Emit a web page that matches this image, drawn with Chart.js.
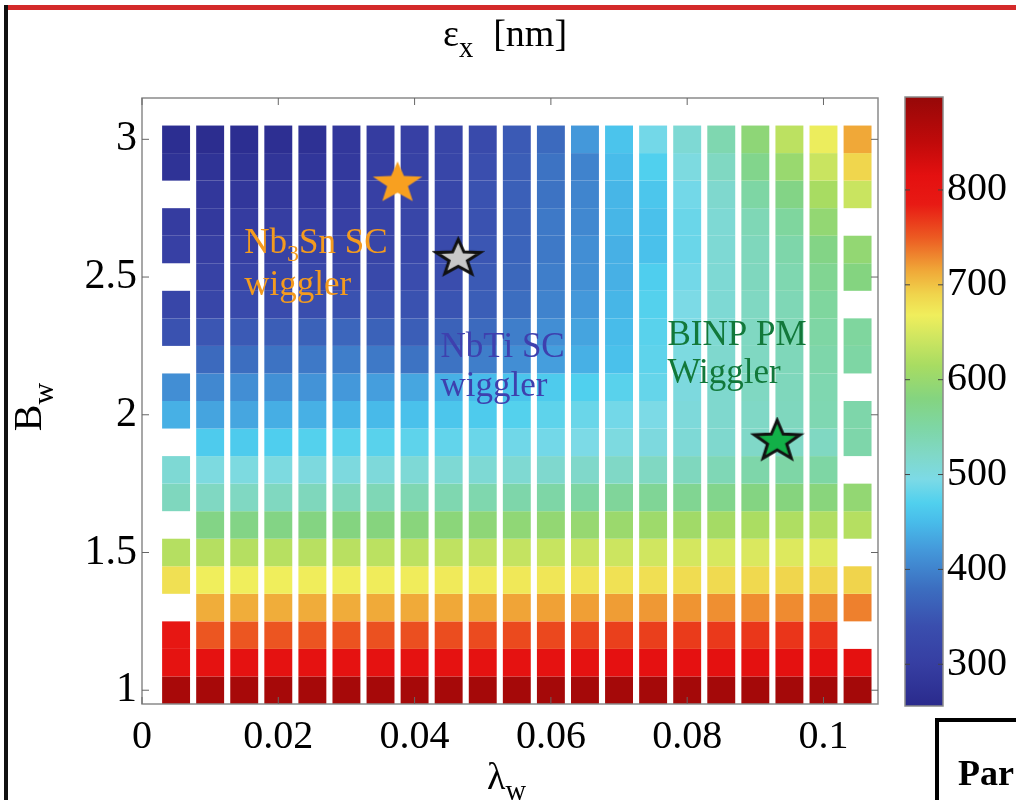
<!DOCTYPE html>
<html>
<head>
<meta charset="utf-8">
<script src="https://cdn.jsdelivr.net/npm/chart.js@4.4.0/dist/chart.umd.min.js"></script>
<style>
    body { margin: 0; background: #fff; width: 1016px; height: 800px; overflow: hidden; position: relative; font-family: 'Liberation Serif', serif; }
    #main { position: absolute; left: 0; top: 0; }
    #cbar { position: absolute; left: 880px; top: 0; }
    .lbl { position: absolute; color: #000; white-space: nowrap; line-height: 1; }
    .lbl sub { font-size: 0.75em; vertical-align: -0.4em; }
    .redline { position: absolute; left: 8px; top: 5px; width: 1008px; height: 5px; background: #d42a2a; }
    .blackline { position: absolute; left: 4px; top: 5px; width: 4px; height: 795px; background: #111; }
    .parbox { position: absolute; left: 935px; top: 718px; width: 110px; height: 110px; border: 4px solid #000; box-sizing: border-box; }
    .parbox span { position: absolute; left: 19px; top: 30px; font-size: 36px; font-weight: bold; }
</style>
</head>
<body>
<div class="redline"></div>
<div class="blackline"></div>
<canvas id="main" width="1016" height="800"></canvas>
<canvas id="cbar" width="136" height="800"></canvas>
<div class="lbl" style="left:443px; top:14px; font-size:38px;">ε<sub>x</sub><span style="padding-left:20px">[nm]</span></div>
<div class="lbl" style="left:487px; top:757px; font-size:38px;">λ<sub>w</sub></div>
<div class="lbl" style="left:-12px; top:382px; width:90px; text-align:center; font-size:40px; transform: rotate(-90deg);">B<sub>w</sub></div>
<div class="parbox"><span>Par</span></div>
<script>
// wiggler period (m) and field (T) grid
const lambdaW = [0.005, 0.010, 0.015, 0.020, 0.025, 0.030, 0.035, 0.040, 0.045, 0.050, 0.055,
                 0.060, 0.065, 0.070, 0.075, 0.080, 0.085, 0.090, 0.095, 0.100, 0.105];
const bW = [3.0, 2.9, 2.8, 2.7, 2.6, 2.5, 2.4, 2.3, 2.2, 2.1, 2.0,
            1.9, 1.8, 1.7, 1.6, 1.5, 1.4, 1.3, 1.2, 1.1, 1.0];

// horizontal emittance [nm], one row per B_w (top to bottom), null = no cell
const emittance = [
    [265, 262, 265, 268, 272, 285, 295, 305, 318, 330, 355, 375, 420, 458, 490, 510, 540, 590, 630, 665, 715],
    [275, 275, 275, 280, 283, 290, 300, 310, 320, 340, 360, 385, 400, 450, 470, 500, 525, 570, 600, 640, 688],
    [null, 285, 285, 290, 292, 298, 305, 315, 322, 345, 362, 385, 402, 445, 460, 490, 515, 550, 575, 615, 640],
    [295, 290, 295, 300, 302, 305, 312, 320, 325, 345, 365, 390, 405, 445, 455, 485, 510, 535, 555, 595, null],
    [305, 300, 305, 310, 312, 315, 318, 325, 330, 350, 368, 390, 410, 440, 455, 485, 510, 530, 545, 575, 595],
    [null, 310, 315, 320, 322, 325, 328, 335, 338, 355, 372, 395, 412, 440, 468, 490, 510, 528, 540, 565, 580],
    [320, 320, 330, 335, 340, 345, 345, 345, 348, 360, 380, 400, 420, 445, 472, 495, 510, 525, 535, 555, null],
    [345, 350, 355, 360, 365, 370, 365, 360, 365, 375, 395, 410, 430, 450, 475, 497, 512, 525, 535, 550, 555],
    [null, 375, 380, 385, 390, 395, 390, 385, 385, 395, 410, 425, 440, 455, 478, 500, 515, 525, 532, 545, 550],
    [410, 405, 410, 412, 415, 420, 425, 432, 440, 450, 458, 465, 470, 475, 482, 502, 515, 525, 530, 540, null],
    [440, 430, 432, 438, 440, 443, 448, 455, 460, 465, 472, 478, 485, 490, 495, 505, 515, 522, 528, 538, 545],
    [null, 465, 465, 468, 472, 475, 475, 478, 480, 485, 488, 490, 495, 500, 502, 508, 515, 520, 522, 525, 545],
    [510, 500, 500, 500, 502, 502, 505, 508, 510, 510, 512, 515, 518, 522, 525, 528, 535, 545, 548, 550, null],
    [528, 525, 525, 527, 530, 532, 535, 538, 540, 542, 545, 548, 552, 558, 562, 565, 570, 578, 582, 585, 595],
    [null, 575, 575, 576, 578, 580, 582, 585, 587, 590, 592, 595, 598, 602, 605, 608, 612, 617, 620, 622, 625],
    [625, 625, 625, 626, 627, 628, 629, 630, 632, 634, 636, 638, 640, 642, 645, 648, 650, 652, 654, 656, null],
    [680, 668, 668, 668, 669, 669, 670, 670, 671, 672, 673, 675, 677, 679, 681, 683, 685, 686, 688, 689, 690],
    [null, 712, 712, 712, 713, 713, 714, 714, 715, 716, 717, 718, 719, 720, 722, 724, 726, 727, 728, 729, 733],
    [795, 752, 752, 753, 753, 754, 755, 756, 757, 758, 759, 760, 762, 764, 765, 767, 768, 769, 770, 771, null],
    [805, 808, 808, 808, 808, 809, 809, 809, 809, 810, 810, 810, 810, 811, 811, 811, 812, 812, 812, 812, 812],
    [878, 879, 879, 880, 880, 880, 880, 880, 880, 881, 881, 881, 881, 881, 881, 882, 882, 882, 882, 882, 882]
];

const xTicks = [0, 0.02, 0.04, 0.06, 0.08, 0.1];
const yTicks = [1, 1.5, 2, 2.5, 3];
const cbTicks = [300, 400, 500, 600, 700, 800];
const cMin = 256, cMax = 898;

// wiggler markers
const starLambda = [0.0375, 0.0464, 0.0932];
const starB = [2.840, 2.568, 1.904];

// labels next to the markers
const noteLambda = [0.0150, 0.0438, 0.0771];
const noteB1 = [2.586, 2.209, 2.252];
const noteB2 = [2.434, 2.067, 2.114];

// colormap (washed jet)
const cmapValues = [256, 300, 340, 380, 420, 450, 470, 495, 520, 550, 580, 615, 645, 668, 690, 715, 750, 785, 815, 850, 898];
const cmapColors = ['#2a2a8c', '#363ea2', '#3a4eae', '#3c6ec0', '#4498da', '#48bcea', '#50d0ee', '#7cdae6', '#80d8c8', '#7ed6a4',
                    '#84d480', '#a8dc62', '#d0e660', '#f0ee5c', '#f0d44c', '#f0a838', '#ec5a22', '#e81a14', '#e41010', '#c00a0a', '#960808'];

const serif = "'Liberation Serif', 'Times New Roman', serif";

function hexRgb(h) {
    return [1, 3, 5].map(i => parseInt(h.slice(i, i + 2), 16));
}

function colorOf(v) {
    if (v <= cmapValues[0]) return cmapColors[0];
    for (let i = 1; i < cmapValues.length; i++) {
        if (v <= cmapValues[i]) {
            const t = (v - cmapValues[i - 1]) / (cmapValues[i] - cmapValues[i - 1]);
            const a = hexRgb(cmapColors[i - 1]), b = hexRgb(cmapColors[i]);
            return 'rgb(' + a.map((c, k) => Math.round(c + (b[k] - c) * t)).join(',') + ')';
        }
    }
    return cmapColors[cmapColors.length - 1];
}

function starImage(fill, stroke, rx, ry) {
    const lw = stroke ? 3 : 0;
    const c = document.createElement('canvas');
    c.width = Math.ceil(2 * rx + lw + 4);
    c.height = Math.ceil(2 * ry + lw + 4);
    const g = c.getContext('2d');
    g.translate(c.width / 2, c.height / 2);
    g.beginPath();
    for (let i = 0; i < 10; i++) {
        const r = i % 2 ? 0.42 : 1;
        const a = -Math.PI / 2 + i * Math.PI / 5;
        g.lineTo(Math.cos(a) * rx * r, Math.sin(a) * ry * r);
    }
    g.closePath();
    g.fillStyle = fill;
    g.fill();
    if (stroke) {
        g.lineWidth = lw;
        g.strokeStyle = stroke;
        g.stroke();
    }
    return c;
}

const starImgs = [
    starImage('#f8a020', null, 26, 22),
    starImage('#c8c8c8', '#111', 23, 19),
    starImage('#12b048', '#111', 24, 21)
];

const noteLines = [
    [[['Nb', 0], ['3', 1], ['Sn SC', 0]], [['wiggler', 0]]],
    [[['NbTi SC', 0]], [['wiggler', 0]]],
    [[['BINP PM', 0]], [['Wiggler', 0]]]
];
const noteColors = ['#f49b1e', '#3e40ae', '#12783a'];

// one floating-bar dataset per B_w row
const cellSets = bW.map((b, r) => {
    const pts = [], cols = [];
    lambdaW.forEach((l, c) => {
        const v = emittance[r][c];
        if (v === null) return;
        pts.push({ x: l, y: [b - 0.05, b + 0.05] });
        cols.push(colorOf(v));
    });
    return {
        type: 'bar',
        data: pts,
        backgroundColor: cols,
        borderWidth: 0,
        barPercentage: 0.82,
        categoryPercentage: 1,
        grouped: false,
        order: 2
    };
});

const starSets = starLambda.map((l, i) => ({
    type: 'scatter',
    data: [{ x: l, y: starB[i] }],
    pointStyle: starImgs[i],
    order: 0
}));

function line(ctx, x1, y1, x2, y2) {
    ctx.beginPath();
    ctx.moveTo(x1, y1);
    ctx.lineTo(x2, y2);
    ctx.stroke();
}

const boxPlugin = {
    id: 'box',
    afterDatasetsDraw(chart) {
        const { ctx, chartArea: a, scales: { x, y } } = chart;
        ctx.save();
        ctx.strokeStyle = '#8a8a8a';
        ctx.lineWidth = 1.5;
        ctx.strokeRect(a.left, a.top, a.right - a.left, a.bottom - a.top);
        ctx.strokeStyle = '#666';
        ctx.lineWidth = 1;
        xTicks.forEach(v => {
            const px = x.getPixelForValue(v);
            line(ctx, px, a.bottom, px, a.bottom - 7);
            line(ctx, px, a.top, px, a.top + 7);
        });
        yTicks.forEach(v => {
            const py = y.getPixelForValue(v);
            line(ctx, a.left, py, a.left + 7, py);
            line(ctx, a.right, py, a.right - 7, py);
        });
        ctx.restore();
    }
};

const notePlugin = {
    id: 'notes',
    afterDatasetsDraw(chart) {
        const { ctx, scales: { x, y } } = chart;
        ctx.save();
        ctx.textBaseline = 'alphabetic';
        noteLines.forEach((lines, i) => {
            const x0 = x.getPixelForValue(noteLambda[i]);
            const ys = [y.getPixelForValue(noteB1[i]), y.getPixelForValue(noteB2[i])];
            ctx.fillStyle = noteColors[i];
            lines.forEach((segs, j) => {
                let px = x0;
                segs.forEach(([t, sub]) => {
                    ctx.font = (sub ? 24 : 35) + 'px ' + serif;
                    ctx.fillText(t, px, ys[j] + (sub ? 8 : 0));
                    px += ctx.measureText(t).width;
                });
            });
        });
        ctx.restore();
    }
};

const tickFont = { family: serif, size: 40 };

new Chart(document.getElementById('main'), {
    type: 'bar',
    data: { datasets: [...starSets, ...cellSets] },
    options: {
        responsive: false,
        animation: false,
        layout: { padding: { left: 0, top: 98, right: 138, bottom: 0 } },
        plugins: { legend: { display: false }, tooltip: { enabled: false } },
        scales: {
            x: {
                type: 'linear',
                min: 0,
                max: 0.108,
                offset: false,
                afterFit: s => { s.height = 96; },
                afterBuildTicks: s => { s.ticks = xTicks.map(v => ({ value: v })); },
                grid: { display: false, drawTicks: false },
                border: { display: false },
                ticks: { font: tickFont, color: '#000', padding: 9, maxRotation: 0, autoSkip: false, callback: v => String(v) }
            },
            y: {
                type: 'linear',
                min: 0.95,
                max: 3.15,
                afterFit: s => { s.width = 142; },
                afterBuildTicks: s => { s.ticks = yTicks.map(v => ({ value: v })); },
                grid: { display: false, drawTicks: false },
                border: { display: false },
                ticks: { font: { family: serif, size: 42 }, color: '#000', padding: 5, autoSkip: false, callback: v => String(v) }
            }
        }
    },
    plugins: [boxPlugin, notePlugin]
});

// colour bar
const cbarPlugin = {
    id: 'cbarBox',
    afterDatasetsDraw(chart) {
        const { ctx, chartArea: a, scales: { y } } = chart;
        ctx.save();
        ctx.strokeStyle = '#8a8a8a';
        ctx.lineWidth = 1.5;
        ctx.strokeRect(a.left, a.top, a.right - a.left, a.bottom - a.top);
        ctx.strokeStyle = '#444';
        ctx.lineWidth = 1;
        cbTicks.forEach(v => {
            const py = y.getPixelForValue(v);
            line(ctx, a.left, py, a.left + 5, py);
            line(ctx, a.right, py, a.right - 5, py);
        });
        ctx.restore();
    }
};

new Chart(document.getElementById('cbar'), {
    type: 'bar',
    data: {
        labels: [''],
        datasets: [{
            data: [[cMin, cMax]],
            barPercentage: 1,
            categoryPercentage: 1,
            borderWidth: 0,
            backgroundColor: ctx => {
                const chart = ctx.chart;
                if (!chart.chartArea) return cmapColors[0];
                const y = chart.scales.y;
                const g = chart.ctx.createLinearGradient(0, y.getPixelForValue(cMin), 0, y.getPixelForValue(cMax));
                cmapValues.forEach((v, i) => {
                    const t = Math.min(1, Math.max(0, (v - cMin) / (cMax - cMin)));
                    g.addColorStop(t, cmapColors[i]);
                });
                return g;
            }
        }]
    },
    options: {
        responsive: false,
        animation: false,
        layout: { padding: { left: 25, top: 97, right: 0, bottom: 94 } },
        plugins: { legend: { display: false }, tooltip: { enabled: false } },
        scales: {
            x: { display: false },
            y: {
                position: 'right',
                min: cMin,
                max: cMax,
                afterFit: s => { s.width = 73; },
                afterBuildTicks: s => { s.ticks = cbTicks.map(v => ({ value: v })); },
                grid: { display: false, drawTicks: false },
                border: { display: false },
                ticks: { font: tickFont, color: '#000', padding: 4, autoSkip: false }
            }
        }
    },
    plugins: [cbarPlugin]
});
</script>
</body>
</html>
